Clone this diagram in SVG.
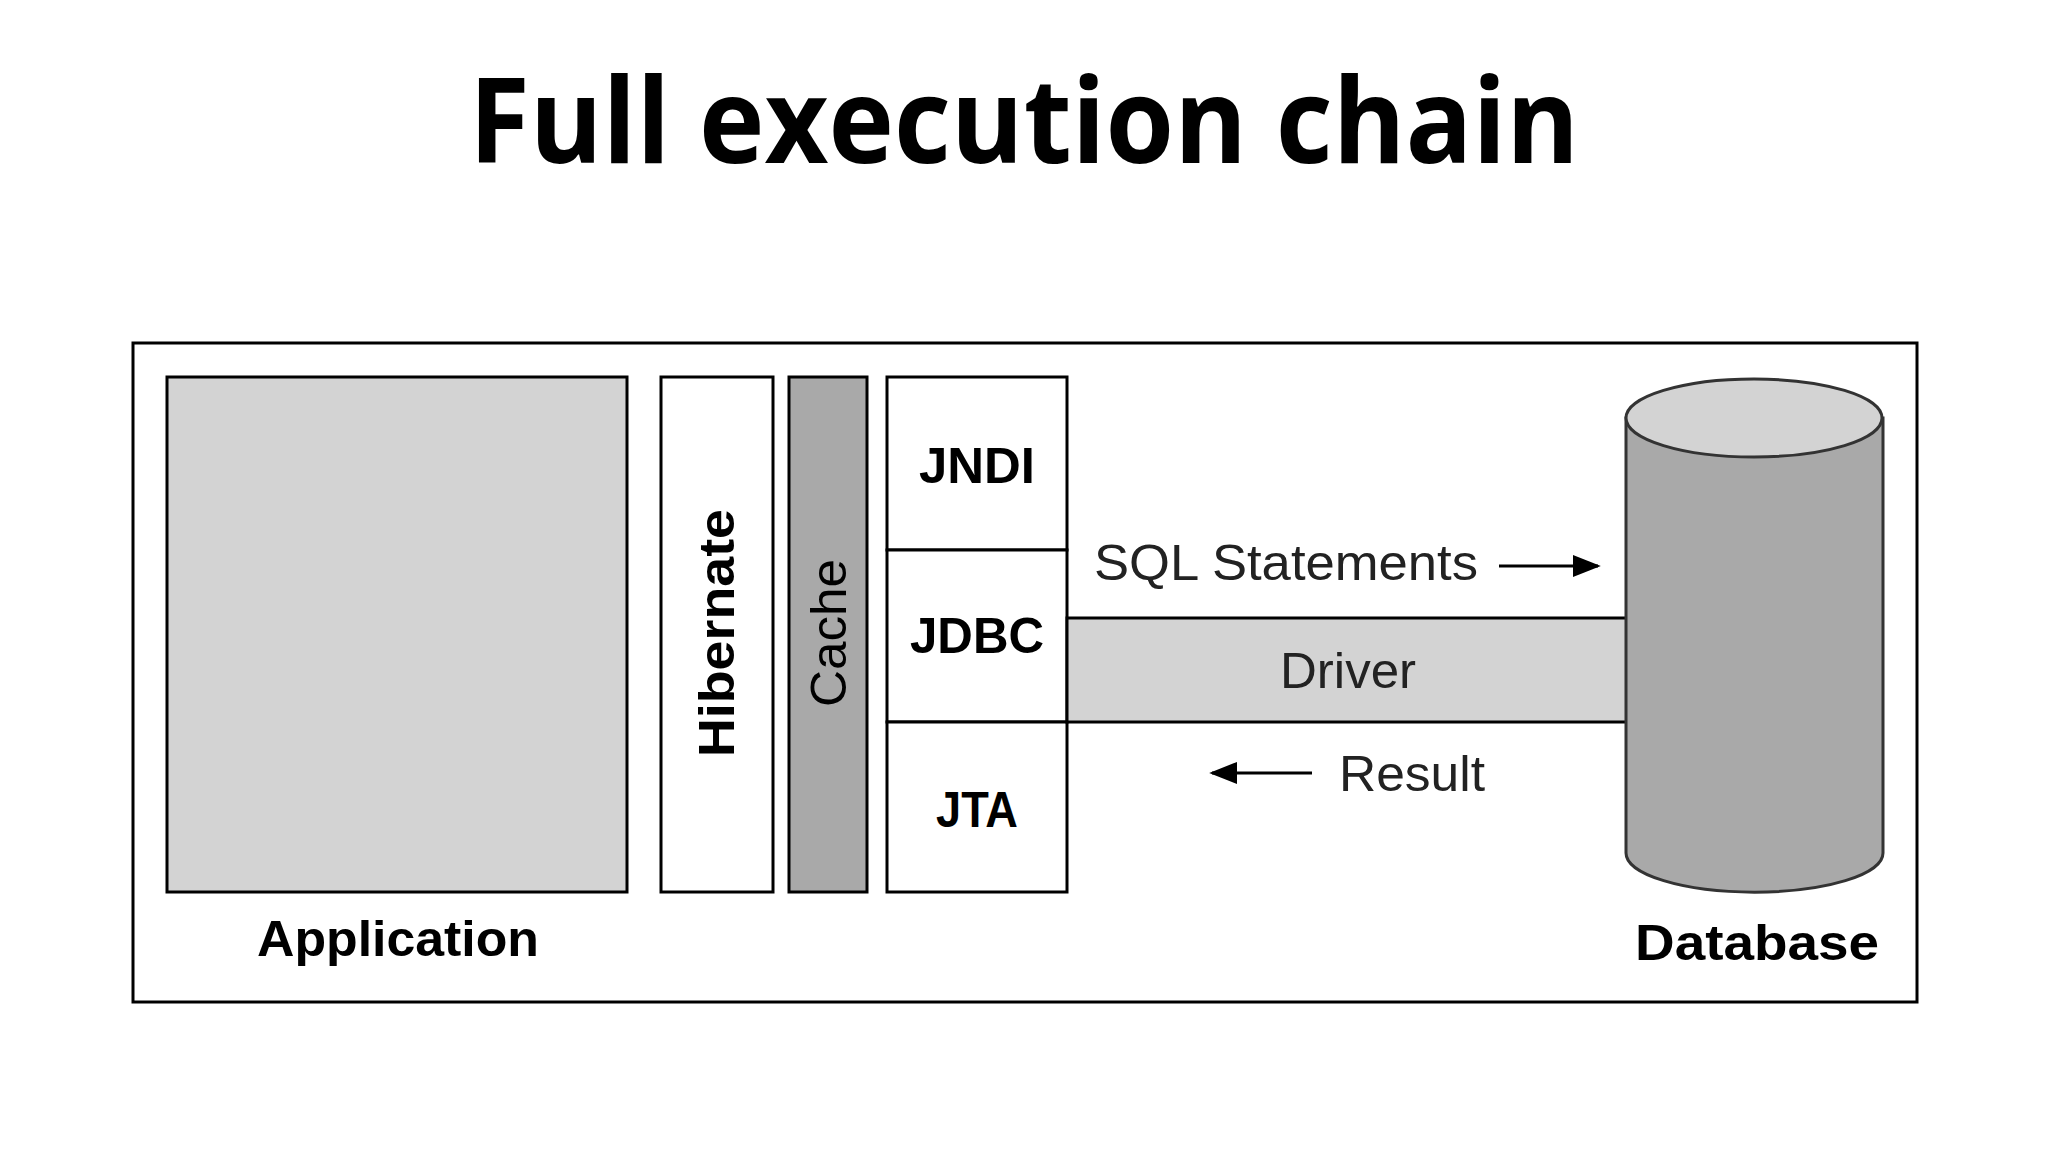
<svg xmlns="http://www.w3.org/2000/svg" width="2048" height="1152" viewBox="0 0 2048 1152">
<style>
.b{stroke:#000;stroke-width:3}
.lb{font-family:"Liberation Sans",Arial,sans-serif;font-weight:bold;font-size:50px;fill:#000;text-anchor:middle}
.ln{font-family:"Liberation Sans",Arial,sans-serif;font-size:50px;fill:#222;}
</style>
<defs><marker id="ah" viewBox="0 0 10 10" refX="9" refY="5" markerWidth="10" markerHeight="10" markerUnits="userSpaceOnUse" orient="auto"><path d="M0,0L10,5L0,10z" fill="#000"/></marker>
<marker id="ah2" viewBox="0 0 10 10" refX="9" refY="5" markerWidth="28" markerHeight="28" markerUnits="userSpaceOnUse" orient="auto"><path d="M0,1L10,5L0,9z" fill="#000"/></marker></defs>
<rect width="2048" height="1152" fill="#fff"/>
<text x="1024" y="163" text-anchor="middle" font-family="'Open Sans',sans-serif" font-weight="bold" font-size="118" textLength="1110" lengthAdjust="spacingAndGlyphs">Full execution chain</text>
<rect x="133" y="343" width="1784" height="659" fill="#fff" class="b"/>
<g id="application"><rect x="167" y="377" width="460" height="515" fill="#d3d3d3" class="b"/>
<text class="lb" x="398" y="956" textLength="282" lengthAdjust="spacingAndGlyphs">Application</text></g>
<g id="hibernate"><rect x="661" y="377" width="112" height="515" fill="#fff" class="b"/>
<text class="lb" transform="translate(734,633) rotate(-90)" textLength="248" lengthAdjust="spacingAndGlyphs">Hibernate</text></g>
<g id="cache"><rect x="789" y="377" width="78" height="515" fill="#a9a9a9" class="b"/>
<text class="lb" font-weight="normal" style="font-weight:normal" transform="translate(846,633) rotate(-90)" textLength="148" lengthAdjust="spacingAndGlyphs">Cache</text></g>
<g id="jndi"><rect x="887" y="377" width="180" height="173" fill="#fff" class="b"/>
<text class="lb" x="977" y="483" textLength="116" lengthAdjust="spacingAndGlyphs">JNDI</text></g>
<g id="jdbc"><rect x="887" y="550" width="180" height="172" fill="#fff" class="b"/>
<text class="lb" x="977" y="653" textLength="134" lengthAdjust="spacingAndGlyphs">JDBC</text></g>
<g id="jta"><rect x="887" y="722" width="180" height="170" fill="#fff" class="b"/>
<text class="lb" x="977" y="827" textLength="82" lengthAdjust="spacingAndGlyphs">JTA</text></g>
<g id="driver"><rect x="1067" y="618" width="560" height="104" fill="#d3d3d3" class="b"/>
<text class="ln" x="1348" y="688" text-anchor="middle" textLength="136" lengthAdjust="spacingAndGlyphs">Driver</text></g>
<g id="database">
<path d="M1626,418 V853 A128,39 0 0 0 1883,853 V418 Z" fill="#a9a9a9" stroke="#333" stroke-width="3"/>
<ellipse cx="1754" cy="418" rx="128" ry="39" fill="#d3d3d3" stroke="#333" stroke-width="3"/>
<text class="lb" x="1757" y="960" textLength="244" lengthAdjust="spacingAndGlyphs">Database</text></g>
<g id="connectors">
<text class="ln" x="1094" y="580" textLength="384" lengthAdjust="spacingAndGlyphs">SQL Statements</text>
<line x1="1499" y1="566" x2="1598" y2="566" stroke="#000" stroke-width="3" marker-end="url(#ah2)"/>
<line x1="1312" y1="773" x2="1212" y2="773" stroke="#000" stroke-width="3" marker-end="url(#ah2)"/>
<text class="ln" x="1339" y="791" textLength="146" lengthAdjust="spacingAndGlyphs">Result</text>
</g>
</svg>
